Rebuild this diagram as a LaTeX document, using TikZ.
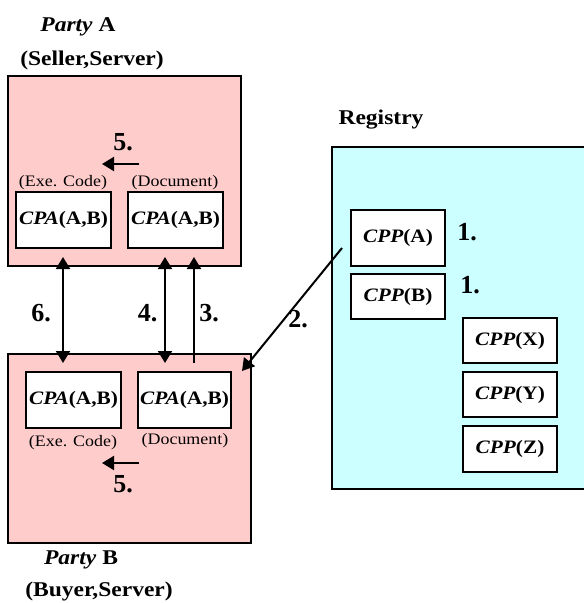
\documentclass[tikz,border=0pt]{standalone}
\usepackage{fontspec}
\setmainfont[FakeStretch=1.12]{Liberation Serif}
\newfontfamily\numfont{Liberation Serif}
\usetikzlibrary{arrows.meta}
\definecolor{partypink}{HTML}{FFCCCC}
\definecolor{regcyan}{HTML}{CCFFFF}
\tikzset{
  party/.style={draw, line width=2pt, fill=partypink, inner sep=0pt},
  docbox/.style={draw, line width=2pt, fill=white, inner sep=0pt,
    font=\fontsize{19}{21}\selectfont\bfseries},
  lbl/.style={inner sep=0pt, font=\fontsize{21}{23}\selectfont\bfseries},
  num/.style={inner sep=0pt, font=\numfont\fontsize{26}{28}\selectfont\bfseries},
  small/.style={inner sep=0pt, font=\fontsize{16}{18}\selectfont},
  conn/.style={line width=2pt},
  tip/.style={-{Triangle[length=12pt,width=14pt]}},
  twotip/.style={{Triangle[length=12pt,width=14pt]}-{Triangle[length=12pt,width=14pt]}},
}
\newcommand{\cpa}{\textit{CPA}(A,B)}
\begin{document}
\begin{tikzpicture}[x=1pt,y=-1pt]
\useasboundingbox (0,0) rectangle (584,603);

% party A
\node[lbl] (tA) at (78,27) {\textit{Party} A};
\node[lbl] (rA) at (92,60) {(Seller,Server)};
\node[party, minimum width=233pt, minimum height=190pt] (pA) at (124.5,171) {};
\node[small] (eA) at (63,183) {(Exe. Code)};
\node[small] (dA) at (175,183) {(Document)};
\node[docbox, minimum width=95pt, minimum height=56pt] (a1) at (63.5,220) {\cpa};
\node[docbox, minimum width=95pt, minimum height=56pt] (a2) at (175.5,220) {\cpa};
\node[num] (fiveA) at (123,142) {5.};
\coordinate (sA1) at (139,164);
\coordinate (sA2) at (102,164);

% party B
\node[party, minimum width=243pt, minimum height=189pt] (pB) at (129.5,448.5) {};
\node[docbox, minimum width=95pt, minimum height=56pt] (b1) at (73.5,400) {\cpa};
\node[docbox, minimum width=93pt, minimum height=56pt] (b2) at (184.5,400) {\cpa};
\node[small] (eB) at (73,443) {(Exe. Code)};
\node[small] (dB) at (185,441) {(Document)};
\node[num] (fiveB) at (123,484) {5.};
\coordinate (sB1) at (139,463);
\coordinate (sB2) at (102,463);
\node[lbl] (tB) at (81,560) {\textit{Party} B};
\node[lbl] (rB) at (99,591) {(Buyer,Server)};

% registry
\node[lbl] (tR) at (381,120) {Registry};
\node[fill=regcyan, inner sep=0pt, minimum width=252pt, minimum height=342pt] (reg) at (458,318) {};
\draw[line width=2pt] (reg.north east) -| (reg.south west) -- (reg.south east);
\node[docbox, minimum width=94pt, minimum height=56pt] (cA) at (398,238) {\textit{CPP}(A)};
\node[docbox, minimum width=94pt, minimum height=45pt] (cB) at (398,296.5) {\textit{CPP}(B)};
\node[docbox, minimum width=94pt, minimum height=45pt] (cX) at (510,340.5) {\textit{CPP}(X)};
\node[docbox, minimum width=94pt, minimum height=45pt] (cY) at (510,394.5) {\textit{CPP}(Y)};
\node[docbox, minimum width=94pt, minimum height=46pt] (cZ) at (510,449) {\textit{CPP}(Z)};
\node[num] (oneA) at (467,232) {1.};
\node[num] (oneB) at (470,285) {1.};

% exchanges between the parties
\coordinate (u6) at (63,257);  \coordinate (d6) at (63,363);
\coordinate (u4) at (165,257); \coordinate (d4) at (165,363);
\coordinate (u3) at (194,257); \coordinate (d3) at (194,363);
\draw[conn, twotip] (u6) -- (d6);
\draw[conn, twotip] (u4) -- (d4);
\draw[conn, tip] (d3) -- (u3);
\node[num] (six) at (41,313.5) {6.};
\node[num] (four) at (147.5,313.5) {4.};
\node[num] (three) at (209,313.5) {3.};

% retrieval of CPP
\coordinate (g1) at (342,248);
\coordinate (g2) at (242,371);
\draw[conn, tip] (g1) -- (g2);
\node[num] (two) at (298,319) {2.};

% arrows labelled 5.
\draw[conn, tip] (sA1) -- (sA2);
\draw[conn, tip] (sB1) -- (sB2);
\end{tikzpicture}
\end{document}
